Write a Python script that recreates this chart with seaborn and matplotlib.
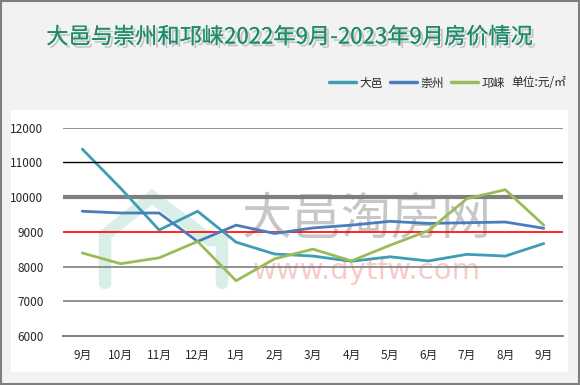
import matplotlib
matplotlib.use("Agg")
import matplotlib.pyplot as plt
import matplotlib.patheffects as pe
from matplotlib.patches import Rectangle
from matplotlib.lines import Line2D
import seaborn as sns
import pandas as pd

# data
months = ["9月", "10月", "11月", "12月", "1月", "2月", "3月",
          "4月", "5月", "6月", "7月", "8月", "9月"]
dayi = [11380, 10250, 9050, 9590, 8700, 8360, 8300, 8150, 8280, 8160, 8350, 8300, 8660]
chongzhou = [9590, 9540, 9540, 8720, 9190, 8950, 9110, 9190, 9300, 9240, 9260, 9280, 9100]
qionglai = [8390, 8080, 8250, 8720, 7590, 8220, 8500, 8160, 8610, 9030, 9950, 10210, 9190]
series_names = ["大邑", "崇州", "邛崃"]
colors = ["#3c9db4", "#4a7ebb", "#9bbb59"]

sns.set_style("white")
plt.rcParams['font.family'] = ['Noto Sans CJK SC', 'DejaVu Sans']

df = pd.concat([
    pd.DataFrame({"idx": range(len(months)), "price": vals, "area": name})
    for name, vals in zip(series_names, [dayi, chongzhou, qionglai])
])

W, H = 580, 385
fig = plt.figure(figsize=(W / 100, H / 100), dpi=100)
fig.patch.set_facecolor("#f2f2f2")

# background axes in pixel coordinates (border, white panel, watermark)
bg = fig.add_axes([0, 0, 1, 1], zorder=0)
bg.set_xlim(0, W)
bg.set_ylim(H, 0)
bg.axis("off")
bg.add_patch(Rectangle((0.5, 0.5), W - 2, H - 2, fill=False, edgecolor="#7f7f7f", linewidth=1.5))
bg.add_patch(Rectangle((11, 110), 557, 262, facecolor="white", edgecolor="none"))
bg.text(367, 220, "大邑淘房网", fontsize=36, color="#9a9a9a", alpha=0.55, ha="center", va="center")
bg.text(367, 271, "www.dytfw.com", fontsize=21, color="#f08c8c", alpha=0.45,
        ha="center", va="center", family="DejaVu Sans")
bg.plot([105, 105, 152, 210, 222, 222], [283, 235, 197, 240, 240, 283],
        color="#bfe3d8", alpha=0.6, linewidth=9, solid_joinstyle="miter")

bg.text(290, 37, "大邑与崇州和邛崃2022年9月-2023年9月房价情况", fontsize=16,
        color="#1b8c6c", ha="center", va="center",
        path_effects=[pe.withSimplePatchShadow(offset=(2, -2), shadow_rgbFace="#999999", alpha=0.5),
                      pe.Normal()])
bg.text(511, 83, "单位:元/㎡", fontsize=8.5, ha="left", va="center")

left, right, top, bottom = 63, 563, 127.5, 336
ax = fig.add_axes([left / W, 1 - bottom / H, (right - left) / W, (bottom - top) / H], zorder=1)
ax.patch.set_alpha(0)

sns.lineplot(data=df, x="idx", y="price", hue="area", palette=colors, sort=False,
             linewidth=2.0, legend=False, ax=ax, zorder=3)

ax.set_xlim(-0.5, len(months) - 0.5)
ax.set_ylim(6000, 12000)
ax.set_yticks(range(6000, 12001, 1000))
# diagnostic: different styles per gridline
ax.hlines([7000, 8000], -0.5, len(months) - 0.5, color="#7f7f7f", linewidth=1.2, zorder=2)
ax.hlines([9000], -0.5, len(months) - 0.5, color="red", linewidth=1.2, zorder=2)
ax.axhline(10000, color="#7f7f7f", linewidth=3, zorder=2)
ax.axhline(11000, color="black", linewidth=1, zorder=4)
ax.plot([-0.5, 12.5], [12000, 12000], color="#7f7f7f", linewidth=1.2, zorder=4)
ax.set_xticks(range(len(months)))
ax.set_xticklabels(months, fontsize=8.5)
ax.set_xticks([i - 0.5 for i in range(len(months) + 1)], minor=True)
ax.tick_params(axis="x", which="major", length=0, pad=9)
ax.tick_params(axis="x", which="minor", length=5, color="#7f7f7f", width=1.2)
ax.tick_params(axis="y", length=0, pad=14, labelsize=8.5)
ax.set_xlabel("")
ax.set_ylabel("")
for s in ["top", "right", "left"]:
    ax.spines[s].set_visible(False)
ax.spines["bottom"].set_color("#7f7f7f")
ax.spines["bottom"].set_linewidth(1.4)

handles = [Line2D([0], [0], color=c, linewidth=2.5) for c in colors]
fig.legend(handles, series_names, ncol=3, loc="center left", frameon=False,
           bbox_to_anchor=(318 / W, 1 - 83 / H), fontsize=8.5, handlelength=2.3,
           handletextpad=0.3, columnspacing=0.6)

fig.savefig("out.png", dpi=100, facecolor=fig.get_facecolor())
